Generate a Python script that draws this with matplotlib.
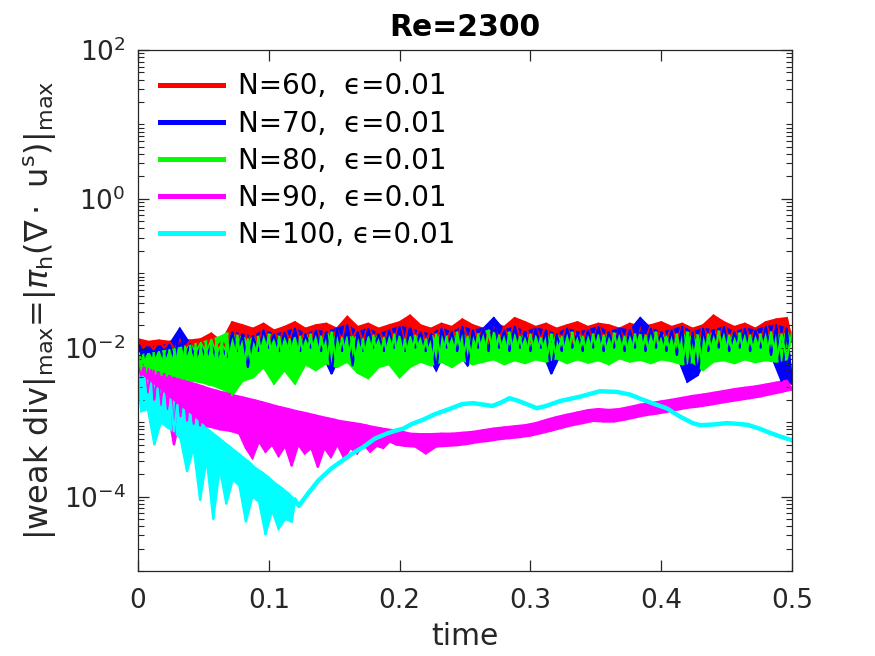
import numpy as np
import matplotlib
matplotlib.use("Agg")
import matplotlib.pyplot as plt
from matplotlib.ticker import FixedLocator, LogLocator, NullFormatter
from matplotlib.lines import Line2D

# ---------------- data (values in units of 1e-3) ----------------
# each noisy series alternates peak / trough samples
labels = ["N=60,  ϵ=0.01", "N=70,  ϵ=0.01", "N=80,  ϵ=0.01",
          "N=90,  ϵ=0.01", "N=100, ϵ=0.01"]
colors = ["#ff0000", "#0000ff", "#00ff00", "#ff00ff", "#00ffff"]

t_red = np.linspace(0, 0.5, 126)
red_v = [13, 10, 12, 9.5, 12.5, 10, 12, 9.5, 13, 10, 12.5, 10, 13, 10, 15.5, 10, 12, 10,
         22, 12, 20, 12, 18, 11, 21, 12, 17, 12, 19, 12, 22, 12, 18, 13, 20, 12, 21, 13,
         18, 12, 26, 13, 19, 12, 21, 13, 18, 12, 20, 13, 22, 12, 27, 13, 20, 12, 18, 13,
         21, 12, 19, 13, 24, 12, 20, 13, 18, 12, 21, 13, 19, 12, 25, 13, 22, 12, 19, 13,
         21, 12, 18, 13, 20, 12, 22, 13, 19, 12, 21, 13, 20, 12, 18, 13, 21, 12, 19, 13,
         20, 12, 22, 13, 19, 12, 21, 13, 18, 12, 20, 13, 27, 12, 22, 13, 19, 12, 21, 13,
         18, 12, 22, 13, 24, 12, 25, 12]

t_blue = np.linspace(0, 0.5, 126)
blue_v = [11, 7, 10, 7.2, 10.5, 6.8, 11, 7, 18, 7.5, 11, 7, 10.5, 7.2, 11, 7, 10, 7.5,
          16, 9, 15, 5.5, 14, 9, 17, 10, 15, 9, 16, 10, 18, 9, 15, 10, 17, 9, 16, 4.5,
          18, 9, 20, 5.8, 16, 9, 18, 10, 15, 9, 17, 10, 19, 9, 18, 10, 16, 9, 15, 5,
          18, 10, 16, 9, 19, 5.8, 17, 10, 18, 9, 25, 10, 17, 9, 19, 10, 16, 9, 18, 10,
          17, 4.5, 15, 9, 18, 10, 16, 9, 17, 10, 19, 9, 16, 10, 18, 9, 17, 10, 25, 9,
          18, 10, 16, 9, 17, 8, 19, 3.5, 16, 4.3, 18, 9, 17, 10, 19, 9, 16, 10, 18, 9,
          17, 10, 19, 8, 20, 3.6, 18, 3.3]

t_green = np.concatenate([np.linspace(0, 0.068, 35), np.linspace(0.072, 0.5, 108)])
green_v = [7.8, 4.8, 8.0, 4.6, 8.2, 4.5, 8.4, 4.4, 8.7, 4.3, 9.0, 4.2, 9.3, 4.1, 9.6, 4.0,
           9.9, 3.8, 10.3, 3.7, 10.7, 3.6, 11.1, 3.5, 11.6, 3.4, 12.1, 3.2, 12.7, 3.1,
           13.4, 2.9, 14.3, 2.7, 15.5,
           2.3, 14.5, 3.6, 13, 4.0, 14, 5.5, 15, 3.3, 14, 5.0, 13, 3.3, 14, 6.0, 15, 5.0,
           14, 6.2, 16, 5.5, 13.5, 6.5, 14, 4.6, 13, 3.9, 14.5, 5.5, 13.5, 6.0, 15, 4.0,
           13, 5.5, 14.5, 6.5, 13, 5.8, 15, 6.5, 14, 5.5, 16, 6.8, 14, 6.0, 15, 6.5, 17,
           7.0, 14.5, 6.0, 16, 6.8, 14, 6.2, 15, 7.0, 13.5, 6.5, 15, 7.2, 14, 6.2, 16, 7.0,
           14, 6.3, 15, 6.8, 14.5, 6.0, 15.5, 7.2, 14, 6.5, 15, 6.9, 14.5, 6.2, 16, 7.0,
           14, 6.6, 15, 6.0, 16, 6.4, 14.5, 5.0, 15, 6.5, 16.5, 6.8, 14.5, 6.2, 15.5, 7.0,
           14.5, 6.4, 15, 6.8, 16, 6.5, 15, 7.0, 16]

t_mag = np.concatenate([np.linspace(0, 0.2, 81), np.linspace(0.204, 0.5, 75)])
mag_v = [5.7, 4.2, 5.4, 2.5, 5.0, 2.0, 4.7, 1.7, 4.4, 1.5, 4.1, 0.5, 3.8, 1.2, 3.6, 1.05,
         3.4, 0.95, 3.2, 0.9, 3.0, 0.88, 2.8, 0.85, 2.65, 0.8, 2.5, 0.78, 2.38, 0.75, 2.25,
         0.7, 2.15, 0.45, 2.05, 0.33, 1.95, 0.55, 1.85, 0.4, 1.75, 0.5, 1.65, 0.35, 1.57,
         0.48, 1.5, 0.26, 1.42, 0.5, 1.36, 0.38, 1.3, 0.45, 1.24, 0.25, 1.18, 0.45, 1.13,
         0.34, 1.08, 0.5, 1.03, 0.33, 1.0, 0.45, 0.97, 0.38, 0.94, 0.5, 0.9, 0.4, 0.86,
         0.48, 0.83, 0.45, 0.8, 0.55, 0.78, 0.5, 0.76,
         0.48, 0.7, 0.47, 0.69, 0.38, 0.69, 0.47, 0.7, 0.48, 0.7, 0.49, 0.72, 0.51, 0.74,
         0.54, 0.78, 0.56, 0.82, 0.59, 0.85, 0.61, 0.88, 0.63, 0.91, 0.66, 0.97, 0.71,
         1.07, 0.77, 1.17, 0.84, 1.26, 0.91, 1.35, 0.97, 1.45, 1.04, 1.5, 1.02, 1.46,
         1.02, 1.5, 1.08, 1.6, 1.16, 1.72, 1.24, 1.8, 1.3, 1.9, 1.37, 2.0, 1.47, 2.12,
         1.56, 2.25, 1.62, 2.35, 1.7, 2.48, 1.8, 2.62, 1.9, 2.78, 2.0, 2.9, 2.1, 3.02,
         2.22, 3.2, 2.38, 3.4, 2.55, 3.6, 2.75]

t_cyan_osc = np.linspace(0, 0.12, 49)
cyan_osc_v = [4.6, 1.4, 3.9, 1.5, 3.3, 0.5, 2.8, 1.0, 2.4, 0.85, 2.0, 0.75, 1.7, 0.6, 1.45,
              0.22, 1.25, 0.45, 1.05, 0.09, 0.9, 0.32, 0.76, 0.05, 0.65, 0.24, 0.55, 0.08,
              0.47, 0.17, 0.4, 0.14, 0.34, 0.046, 0.29, 0.1, 0.24, 0.085, 0.21, 0.031,
              0.18, 0.065, 0.15, 0.037, 0.13, 0.05, 0.11, 0.046, 0.09]
t_cyan_smooth = [0.123, 0.13, 0.138, 0.148, 0.158, 0.165, 0.172, 0.181, 0.19, 0.196,
                 0.203, 0.209, 0.218, 0.227, 0.238, 0.248, 0.256, 0.264, 0.271, 0.278,
                 0.284, 0.29, 0.297, 0.305, 0.312, 0.323, 0.338, 0.353, 0.366, 0.376,
                 0.386, 0.395, 0.404, 0.414, 0.424, 0.43, 0.44, 0.45, 0.458, 0.466,
                 0.475, 0.483, 0.49, 0.5]
cyan_smooth_v = [0.075, 0.11, 0.165, 0.24, 0.32, 0.39, 0.46, 0.6, 0.7, 0.76,
                 0.82, 0.94, 1.08, 1.28, 1.5, 1.75, 1.8, 1.72, 1.65, 1.85,
                 2.1, 1.95, 1.75, 1.54, 1.65, 1.93, 2.2, 2.6, 2.55, 2.35,
                 2.0, 1.75, 1.54, 1.2, 0.97, 0.91, 0.93, 0.97, 0.95, 0.92,
                 0.82, 0.72, 0.65, 0.57]

xticks = [0, 0.1, 0.2, 0.3, 0.4, 0.5]
xticklabels = ["0", "0.1", "0.2", "0.3", "0.4", "0.5"]
yticks = [1e-4, 1e-2, 1e0, 1e2]

# ---------------- plotting ----------------
scale = 1e-3

fig = plt.figure(figsize=(8.75, 6.56), dpi=100)
ax = fig.add_axes([138 / 875, 1 - 571 / 656, (792 - 138) / 875, (571 - 50) / 656])


def draw_band(t, v, color):
    """Fill between the peak samples (even) and the trough samples (odd)."""
    t = np.asarray(t, float)
    v = np.asarray(v, float) * scale
    th, vh = t[0::2], v[0::2]
    tl, vl = t[1::2], v[1::2]
    ax.fill(np.r_[th, tl[::-1]], np.r_[vh, vl[::-1]], color=color, lw=1.6, ec=color)
    ax.plot(t, v, color=color, lw=1.6)


draw_band(t_red, red_v, colors[0])
draw_band(t_blue, blue_v, colors[1])
draw_band(t_green, green_v, colors[2])
draw_band(t_mag, mag_v, colors[3])
draw_band(t_cyan_osc, cyan_osc_v, colors[4])
ax.plot(np.r_[t_cyan_osc[-1], t_cyan_smooth],
        np.r_[cyan_osc_v[-1], cyan_smooth_v] * scale, color=colors[4], lw=3.2)

ax.set_yscale("log")
ax.set_xlim(0, 0.5)
ax.set_ylim(1e-5, 1e2)
ax.set_xticks(xticks)
ax.set_xticklabels(xticklabels)
ax.yaxis.set_major_locator(FixedLocator(yticks))
ax.yaxis.set_minor_locator(LogLocator(base=10, subs=np.arange(1, 10) * 1.0, numticks=100))
ax.yaxis.set_minor_formatter(NullFormatter())

dark = "#262626"
for s in ax.spines.values():
    s.set_color(dark)
    s.set_linewidth(0.9)
ax.tick_params(which="both", direction="in", top=True, right=True, colors=dark,
               labelsize=19, labelcolor=dark)
ax.tick_params(which="major", length=8, width=0.9)
ax.tick_params(axis="x", which="major", pad=12)
ax.tick_params(axis="y", which="major", pad=9)
ax.tick_params(which="minor", length=4, width=0.8)

ax.set_title("Re=2300", fontsize=21.5, fontweight="bold", pad=10)
ax.set_xlabel("time", fontsize=21.5, color=dark, labelpad=6)
ax.set_ylabel("|weak div|$_{\\rm max}$=|$\\pi_{\\rm h}$($\\nabla\\cdot$ u$^{\\rm s}$)|$_{\\rm max}$",
              fontsize=23, color=dark, labelpad=3)

handles = [Line2D([], [], color=c, lw=3.6) for c in colors]
ax.legend(handles, labels, loc="upper left", frameon=False, fontsize=20,
          handlelength=2.25, handletextpad=0.55, labelspacing=0.33,
          borderaxespad=0.0, borderpad=0.0, bbox_to_anchor=(0.034, 0.957))

fig.savefig("out.png", dpi=100)
